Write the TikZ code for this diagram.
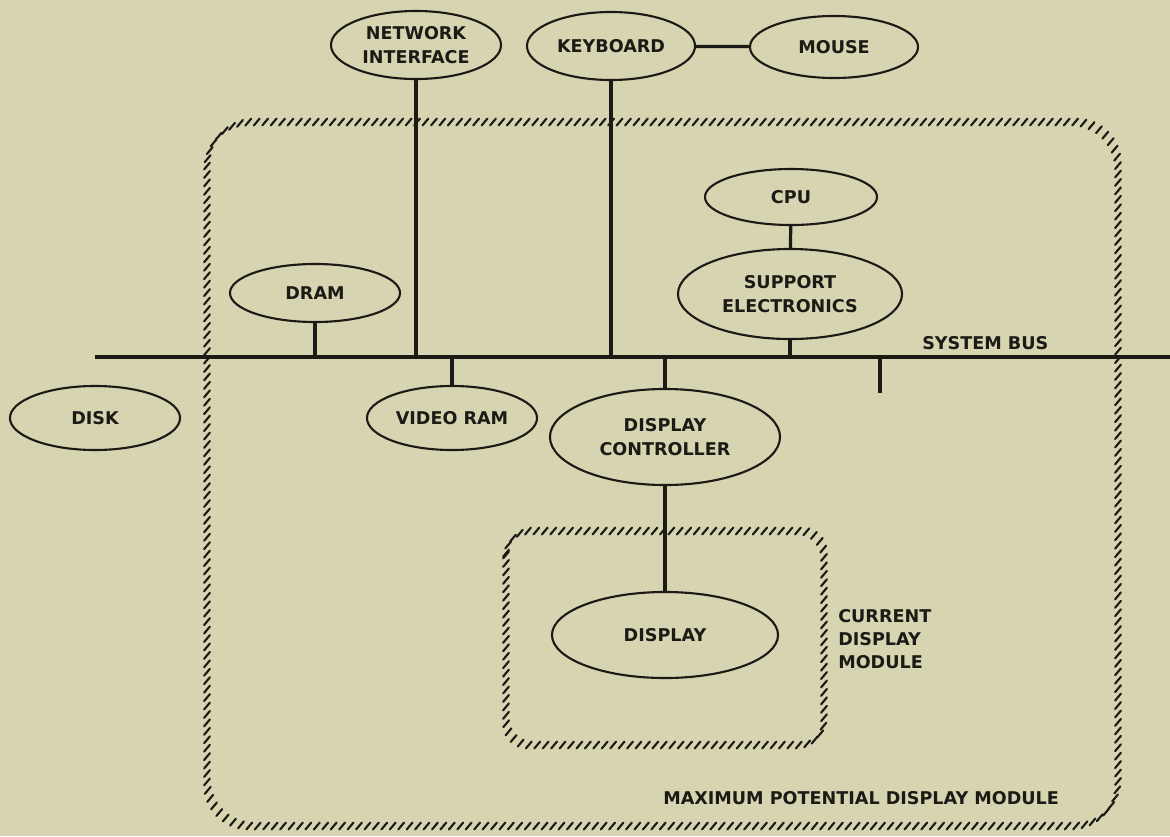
\documentclass[tikz,border=0pt]{standalone}
\usepackage{fontspec}
\setmainfont{DejaVu Sans}
\usepackage{xcolor}
\usepackage{tikz}
\usetikzlibrary{positioning,shapes.geometric,decorations.markings}
\definecolor{paper}{RGB}{214,212,177}
\definecolor{ink}{RGB}{28,26,20}
\tikzset{
    % the devices on the bus: plain ellipses with bold capitals
    device/.style={
        ellipse,
        draw=ink,
        line width=1.5pt,
        text=ink,
        align=center,
        inner sep=0pt,
        font=\fontsize{12.5}{16.5}\selectfont\bfseries
    },
    % the wires and the system bus
    wire/.style={draw=ink, line width=2.3pt},
    bus_line/.style={draw=ink, line width=2.5pt},
    % the "rope" outline of a display module: slashes that keep one slant
    module_border/.style={
        decorate,
        decoration={markings,
            mark=between positions 0 and 1 step 6pt with {
                \pgftransformresetnontranslations
                \draw[ink, line width=1.5pt, line cap=round] (230:3.2pt) -- (50:3.2pt);
            }
        }
    },
    caption/.style={
        text=ink,
        align=left,
        inner sep=0pt,
        font=\fontsize{12.5}{16.5}\selectfont\bfseries
    }
}

\begin{document}
\begin{tikzpicture}[x=0.025cm, y=-0.025cm]
        % --- 1. Page ---
        \fill[paper] (0,0) rectangle (1170,836);
        \useasboundingbox (0,0) rectangle (1170,836);

        % --- 2. Module outlines ---
        \path[module_border, rounded corners=1.1cm] (207,122) rectangle (1118,826);
        \path[module_border, rounded corners=0.6cm] (506,531) rectangle (824,745);

        % --- 3. System bus ---
        \coordinate (busL) at (95,357);
        \coordinate (busR) at (1170,357);
        \coordinate (stub) at (880,393);
        \draw[bus_line] (busL) -- (busR);
        \node[caption, anchor=base west] (buslabel) at (922,349) {SYSTEM BUS};

        % --- 4. Devices ---
        \node[device, minimum width=4.25cm, minimum height=1.7cm] (net) at (416,45) {NETWORK\\INTERFACE};
        \node[device, minimum width=4.2cm, minimum height=1.7cm] (keyboard) at (611,46) {KEYBOARD};
        \node[device, minimum width=4.2cm, minimum height=1.55cm] (mouse) at (834,47) {MOUSE};
        \node[device, minimum width=4.3cm, minimum height=1.4cm] (cpu) at (791,197) {CPU};
        \node[device, minimum width=5.6cm, minimum height=2.25cm] (support) at (790,294) {SUPPORT\\ELECTRONICS};
        \node[device, minimum width=4.25cm, minimum height=1.45cm] (dram) at (315,293) {DRAM};
        \node[device, minimum width=4.25cm, minimum height=1.6cm] (disk) at (95,418) {DISK};
        \node[device, minimum width=4.25cm, minimum height=1.6cm] (vram) at (452,418) {VIDEO RAM};
        \node[device, minimum width=5.75cm, minimum height=2.4cm] (controller) at (665,437) {DISPLAY\\CONTROLLER};
        \node[device, minimum width=5.65cm, minimum height=2.15cm] (display) at (665,635) {DISPLAY};

        % --- 5. Connections ---
        \draw[wire] (keyboard) -- (mouse);
        \draw[wire] (net.south) -- (net.south |- busL);
        \draw[wire] (keyboard.south) -- (keyboard.south |- busL);
        \draw[wire] (cpu) -- (support);
        \draw[wire] (support.south) -- (support.south |- busL);
        \draw[wire] (dram.south) -- (dram.south |- busL);
        \draw[wire] (vram.north |- busL) -- (vram.north);
        \draw[wire] (controller.north |- busL) -- (controller.north);
        \draw[wire] (controller) -- (display);
        \draw[wire] (stub |- busL) -- (stub);

        % --- 6. Module captions ---
        \node[caption, anchor=north west] (current) at (838,609) {CURRENT\\DISPLAY\\MODULE};
        \node[caption, anchor=base west] (maximum) at (663,804) {MAXIMUM POTENTIAL DISPLAY MODULE};
    \end{tikzpicture}
\end{document}
